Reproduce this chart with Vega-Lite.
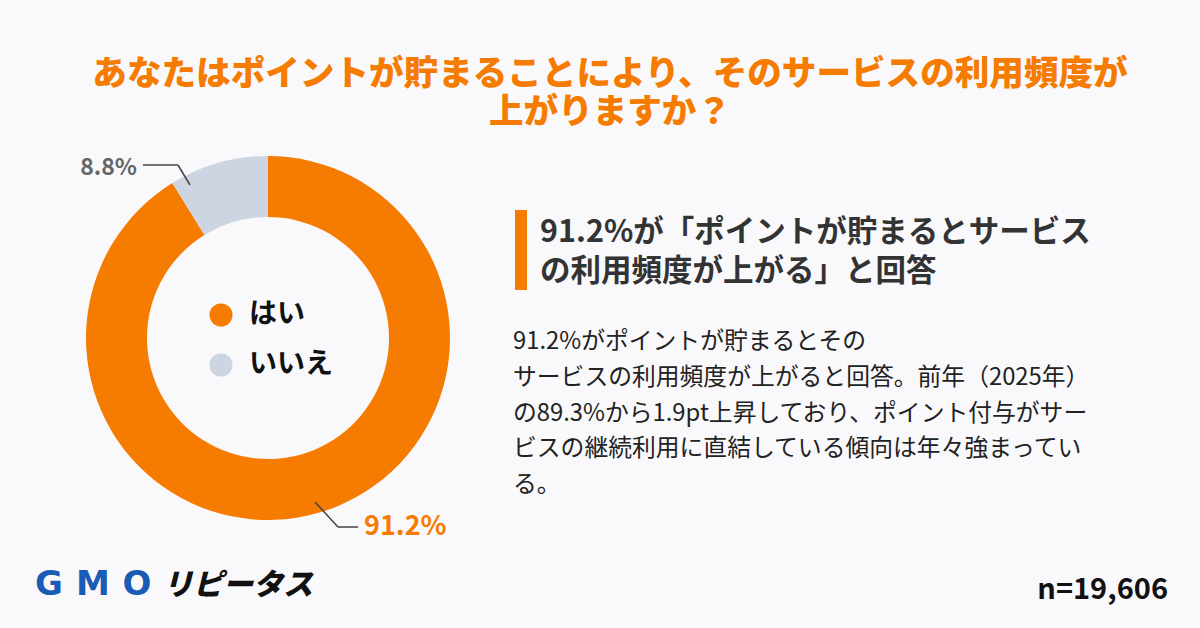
{
  "$schema": "https://vega.github.io/schema/vega-lite/v6.json",
  "width": 1200,
  "height": 628,
  "autosize": {"type": "fit", "contains": "padding"},
  "padding": 0,
  "background": "#f9f9fb",
  "config": {"view": {"stroke": null}, "font": "Noto Sans CJK JP"},
  "data": {"values": [
    {"answer": "はい", "value": 91.2},
    {"answer": "いいえ", "value": 8.8}
  ]},
  "layer": [
    {
      "mark": {"type": "arc", "innerRadius": 121, "outerRadius": 182, "x": 268, "y": 338},
      "encoding": {
        "theta": {"field": "value", "type": "quantitative", "stack": true},
        "order": {"field": "value", "sort": "descending"},
        "color": {
          "field": "answer", "type": "nominal",
          "scale": {"domain": ["はい", "いいえ"], "range": ["#f57c00", "#cdd5e3"]},
          "legend": {
            "orient": "none", "legendX": 207, "legendY": 301, "title": null,
            "symbolType": "circle", "symbolSize": 530, "symbolStrokeWidth": 0,
            "labelFontSize": 28, "labelFontWeight": "bold", "labelColor": "#111111",
            "labelFont": "Noto Sans CJK JP", "labelOffset": 14, "rowPadding": 22
          }
        }
      }
    },
    {
      "data": {"values": [{}]},
      "mark": {"type": "text", "text": ["あなたはポイントが貯まることにより、そのサービスの利用頻度が", "上がりますか？"],
        "x": 610, "y": 75, "align": "center", "baseline": "middle", "fontSize": 34.6, "fontWeight": 900,
        "lineHeight": 38, "color": "#f57c00"}
    },
    {
      "data": {"values": [{}]},
      "mark": {"type": "text", "text": "8.8%", "x": 137, "y": 168, "align": "right", "baseline": "middle",
        "fontSize": 23, "fontWeight": "bold", "color": "#666666"}
    },
    {
      "data": {"values": [{}]},
      "mark": {"type": "text", "text": "91.2%", "x": 364, "y": 527, "align": "left", "baseline": "middle",
        "fontSize": 27, "fontWeight": "bold", "color": "#f57c00"}
    },
    {
      "data": {"values": [{}]},
      "mark": {"type": "rule", "color": "#444444", "strokeWidth": 1.5},
      "encoding": {"x": {"value": 143}, "y": {"value": 165}, "x2": {"value": 178}, "y2": {"value": 165}}
    },
    {
      "data": {"values": [{}]},
      "mark": {"type": "rule", "color": "#444444", "strokeWidth": 1.5},
      "encoding": {"x": {"value": 178}, "y": {"value": 165}, "x2": {"value": 190}, "y2": {"value": 185}}
    },
    {
      "data": {"values": [{}]},
      "mark": {"type": "rule", "color": "#444444", "strokeWidth": 1.5},
      "encoding": {"x": {"value": 315}, "y": {"value": 502}, "x2": {"value": 338}, "y2": {"value": 527}}
    },
    {
      "data": {"values": [{}]},
      "mark": {"type": "rule", "color": "#444444", "strokeWidth": 1.5},
      "encoding": {"x": {"value": 338}, "y": {"value": 527}, "x2": {"value": 358}, "y2": {"value": 527}}
    },
    {
      "data": {"values": [{}]},
      "mark": {"type": "rect", "x": 515, "x2": 527, "y": 210, "y2": 290, "color": "#f57c00"}
    },
    {
      "data": {"values": [{}]},
      "mark": {"type": "text", "text": ["91.2%が「ポイントが貯まるとサービス", "の利用頻度が上がる」と回答"],
        "x": 540, "y": 233, "align": "left", "baseline": "middle", "fontSize": 30.5, "fontWeight": "bold",
        "lineHeight": 39, "color": "#333333"}
    },
    {
      "data": {"values": [{}]},
      "mark": {"type": "text", "text": ["91.2%がポイントが貯まるとその", "サービスの利用頻度が上がると回答。前年（2025年）", "の89.3%から1.9pt上昇しており、ポイント付与がサー", "ビスの継続利用に直結している傾向は年々強まってい", "る。"],
        "x": 513, "y": 342, "align": "left", "baseline": "middle", "fontSize": 23.8,
        "lineHeight": 35.8, "color": "#222222"}
    },
    {
      "data": {"values": [{}]},
      "mark": {"type": "text", "text": "G", "x": 49, "y": 585, "align": "center", "baseline": "middle",
        "fontSize": 34, "fontWeight": "bold", "font": "DejaVu Sans", "color": "#1a5bb5"}
    },
    {
      "data": {"values": [{}]},
      "mark": {"type": "text", "text": "M", "x": 93, "y": 585, "align": "center", "baseline": "middle",
        "fontSize": 34, "fontWeight": "bold", "font": "DejaVu Sans", "color": "#1a5bb5"}
    },
    {
      "data": {"values": [{}]},
      "mark": {"type": "text", "text": "O", "x": 137, "y": 585, "align": "center", "baseline": "middle",
        "fontSize": 34, "fontWeight": "bold", "font": "DejaVu Sans", "color": "#1a5bb5"}
    },
    {
      "data": {"values": [{}]},
      "mark": {"type": "text", "text": "リピータス", "x": 163, "y": 586, "align": "left", "baseline": "middle",
        "fontSize": 30, "fontWeight": 900, "fontStyle": "italic", "color": "#111111"}
    },
    {
      "data": {"values": [{}]},
      "mark": {"type": "text", "text": "n=19,606", "x": 1168, "y": 590, "align": "right", "baseline": "middle",
        "fontSize": 29, "fontWeight": "bold", "color": "#111111"}
    }
  ]
}
